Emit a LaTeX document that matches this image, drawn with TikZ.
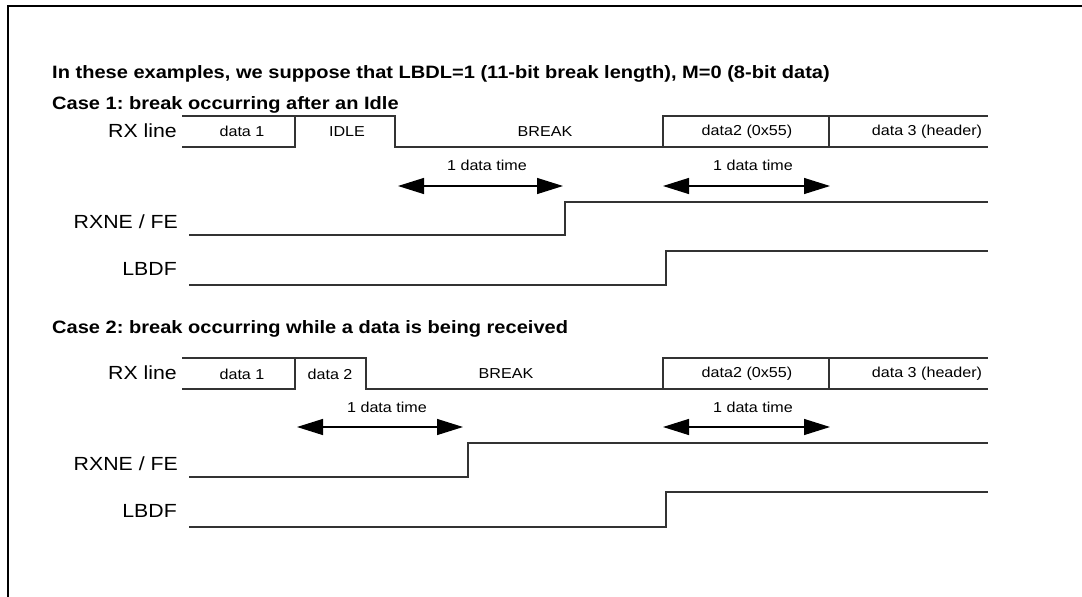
\documentclass[tikz,border=0pt]{standalone}
\usepackage{fontspec}
\setmainfont{Liberation Sans}[FakeStretch=1.12]
\usetikzlibrary{arrows.meta}
\frenchspacing
\begin{document}
\begin{tikzpicture}[x=1pt,y=-1pt,
  sig/.style={line width=1.3pt, draw=black!80, line cap=rect},
  frame/.style={line width=2.6pt, draw=black},
  lbl/.style={font=\fontsize{19}{21}\selectfont, anchor=east, inner sep=0pt},
  dat/.style={font=\fontsize{14.4}{16}\selectfont, inner sep=0pt},
  head/.style={font=\bfseries\fontsize{17.9}{21}\selectfont, anchor=west, inner sep=0pt},
  tm/.style={font=\fontsize{14.4}{16}\selectfont, inner sep=0pt},
  arr/.style={line width=1.2pt, draw=black, {Triangle[length=26pt,width=16pt]}-{Triangle[length=26pt,width=16pt]}}
]
\useasboundingbox (0,0) rectangle (1082,597);
\draw[frame] (8,597) -- (8,6) -- (1082,6);

\node[head] (title) at (52,74) {In these examples, we suppose that LBDL=1 (11-bit break length), M=0 (8-bit data)};
\node[head] (case1) at (52,105) {Case 1: break occurring after an Idle};
\node[head] (case2) at (52,329) {Case 2: break occurring while a data is being received};

% ---------- Case 1 ----------
\node[lbl] (rx1) at (177,131) {RX line};
\draw[sig] (183,116) -- (395,116);
\draw[sig] (183,147) -- (295,147);
\draw[sig] (295,116) -- (295,147);
\draw[sig] (395,116) -- (395,147) -- (987,147);
\draw[sig] (663,147) -- (663,116) -- (987,116);
\draw[sig] (829,116) -- (829,147);
\node[dat] (d11) at (242,131.5) {data 1};
\node[dat] (idle) at (347,131.5) {IDLE};
\node[dat] (brk1) at (545,131.5) {BREAK};
\node[dat] (d21) at (747,131.5) {data2 (0x55)};
\node[dat] (d31) at (927,131.5) {data 3 (header)};

\node[tm] (t11) at (487,165) {1 data time};
\node[tm] (t12) at (753,165) {1 data time};
\coordinate (a11) at (398,186);
\coordinate (b11) at (563,186);
\coordinate (a12) at (663,186);
\coordinate (b12) at (830,186);
\draw[arr] (a11) -- (b11);
\draw[arr] (a12) -- (b12);

\node[lbl] (rxne1) at (178,222) {RXNE / FE};
\draw[sig] (190,235) -- (565,235) -- (565,202) -- (987,202);
\node[lbl] (lbdf1) at (177,269) {LBDF};
\draw[sig] (190,285) -- (666,285) -- (666,251) -- (987,251);

% ---------- Case 2 ----------
\node[lbl] (rx2) at (177,373) {RX line};
\draw[sig] (183,358) -- (366,358);
\draw[sig] (183,389) -- (295,389);
\draw[sig] (295,358) -- (295,389);
\draw[sig] (366,358) -- (366,389) -- (987,389);
\draw[sig] (663,389) -- (663,358) -- (987,358);
\draw[sig] (829,358) -- (829,389);
\node[dat] (d12) at (242,374) {data 1};
\node[dat] (d22) at (330,374) {data 2};
\node[dat] (brk2) at (506,374) {BREAK};
\node[dat] (d23) at (747,374) {data2 (0x55)};
\node[dat] (d32) at (927,374) {data 3 (header)};

\node[tm] (t21) at (387,407) {1 data time};
\node[tm] (t22) at (753,407) {1 data time};
\coordinate (a21) at (297,427);
\coordinate (b21) at (463,427);
\coordinate (a22) at (663,427);
\coordinate (b22) at (830,427);
\draw[arr] (a21) -- (b21);
\draw[arr] (a22) -- (b22);

\node[lbl] (rxne2) at (178,464) {RXNE / FE};
\draw[sig] (190,477) -- (468,477) -- (468,443) -- (987,443);
\node[lbl] (lbdf2) at (177,511) {LBDF};
\draw[sig] (190,527) -- (666,527) -- (666,492) -- (987,492);
\end{tikzpicture}
\end{document}
